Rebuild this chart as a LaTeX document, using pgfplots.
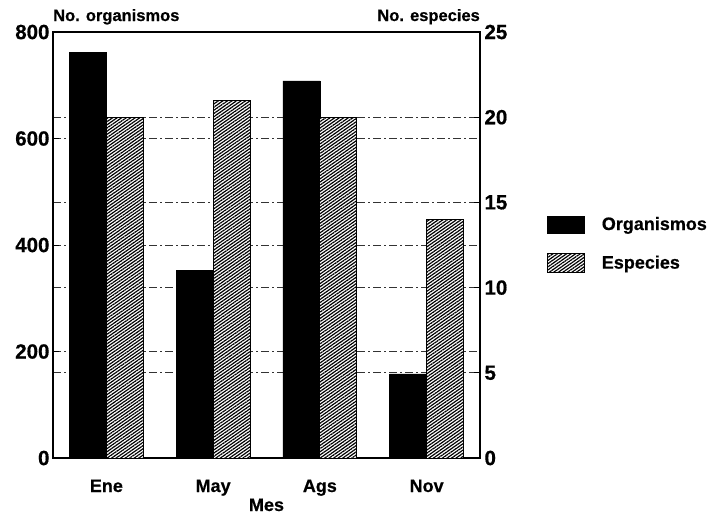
\documentclass[border=0pt]{standalone}
\usepackage{fontspec}
\setmainfont{Liberation Sans}[BoldFeatures={FakeBold=0.6}]
\usepackage{pgfplots}
\pgfplotsset{compat=1.18}
\usetikzlibrary{patterns.meta}
\tikzset{hatch/.style={draw=black, line width=0.8pt, fill=white, postaction={pattern={Lines[angle=35,distance=2.6pt,line width=1.2pt]}}}}
\pgfplotsset{
  common/.style={
    at={(0pt,0pt)}, anchor=south west,
    scale only axis, width=427pt, height=426pt,
    xmin=-0.5, xmax=3.5,
    /pgf/number format/assume math mode=true,
    tick label style={font=\fontsize{18}{20}\selectfont\bfseries},
    yticklabel style={font=\fontsize{20.5}{22}\selectfont\bfseries},
    major tick length=6pt,
    tick style={black, line width=0.8pt},
    axis line style={line width=1.2pt},
    grid style={black!80, line width=0.7pt, dash pattern=on 8pt off 3pt on 2pt off 3pt},
    clip=false,
  }
}
\begin{document}
\begin{tikzpicture}[font=\bfseries]
\useasboundingbox (-53pt,-56pt) rectangle (662pt,458pt);
% axis 1: right scale, grid and right ticks
\begin{axis}[common,
  ymin=0, ymax=25,
  axis y line*=right, axis x line=none,
  axis line style={line width=1.6pt},
  ytick={0,5,10,15,20,25},
  ymajorgrids,
  yticklabel style={anchor=west, xshift=1pt},
]
\addplot[draw=none, forget plot] coordinates {(0,0)};
\end{axis}
% axis 2: left scale, box, black bars
\begin{axis}[common,
  ymin=0, ymax=800,
  ytick={0,200,400,600,800},
  ytick pos=left,
  xtick={0,1,2,3}, xticklabels={Ene,May,Ags,Nov},
  x tick style={draw=none},
  xticklabel style={anchor=base, yshift=-28pt},
  ymajorgrids,
  ybar, bar width=37pt,
]
\addplot[fill=black, draw=black, bar shift=-18.5pt] coordinates {(0,762) (1,352) (2,708) (3,158)};
\node[anchor=base west, inner sep=0pt, font=\fontsize{16.5}{18}\selectfont\bfseries, yshift=11pt] at (rel axis cs:0,1) {No. organismos};
\node[anchor=base east, inner sep=0pt, font=\fontsize{16.5}{18}\selectfont\bfseries, yshift=11pt] at (rel axis cs:1,1) {No. especies};
\node[anchor=base, inner sep=0pt, font=\fontsize{18}{20}\selectfont\bfseries, yshift=-53pt] at (rel axis cs:0.5,0) {Mes};
\end{axis}
% axis 3: right scale, hatched bars, legend
\begin{axis}[common,
  ymin=0, ymax=25,
  hide axis,
  ybar, bar width=37pt,
  legend style={draw=none, fill=none, at={(1.157,0.502)}, anchor=west, inner sep=0pt,
    font=\fontsize{18}{20}\selectfont\bfseries, row sep=20pt, column sep=0pt,
    nodes={inner sep=0pt}},
  legend cell align=left,
]
\addplot[hatch, bar shift=18.5pt, forget plot] coordinates {(0,20) (1,21) (2,20) (3,14)};
\addlegendimage{legend image code/.code={\draw[fill=black,draw=black] (0pt,-8.5pt) rectangle (37pt,8.5pt); \path (54pt,0pt);}}
\addlegendentry{Organismos}
\addlegendimage{legend image code/.code={\draw[hatch] (0pt,-9.5pt) rectangle (37pt,9.5pt); \path (54pt,0pt);}}
\addlegendentry{Especies}
\end{axis}
\end{tikzpicture}
\end{document}
